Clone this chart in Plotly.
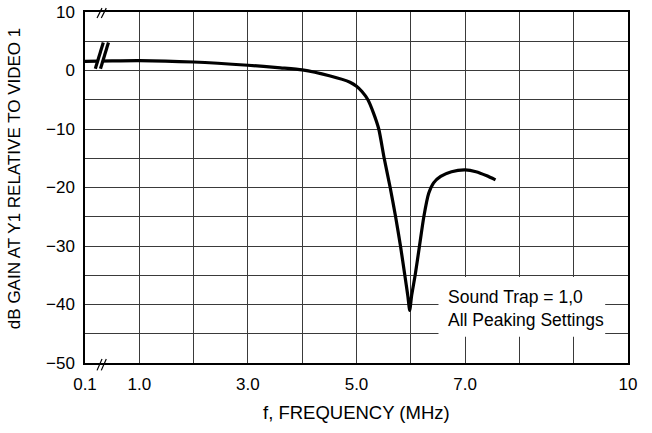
import plotly.graph_objects as go

# ---- data ----
freq_mhz = [0.1, 0.55, 1.0, 2.0, 3.0, 3.6, 4.0, 4.5, 4.88, 5.0, 5.1, 5.21, 5.31, 5.41,
            5.51, 5.62, 5.72, 5.81, 5.89, 5.945, 5.98, 6.015, 6.08, 6.16, 6.24, 6.33,
            6.42, 6.55, 6.75, 7.0, 7.2, 7.4, 7.56]
gain_db = [1.55, 1.65, 1.7, 1.45, 0.9, 0.45, 0.1, -0.9, -2.0, -2.7, -3.6, -5.0, -7.2, -10,
           -15, -20, -25, -30, -35, -38.5, -41, -38.5, -35, -30, -25, -21,
           -19.2, -18.1, -17.3, -17.0, -17.3, -18.0, -18.7]

x_tick_vals = list(range(0, 11))
x_tick_text = ["0.1", "1.0", "", "3.0", "", "5.0", "", "7.0", "", "", "10"]
y_tick_vals = list(range(-50, 15, 5))
y_tick_text = [str(v).replace("-", "\u2212") if v % 10 == 0 else "" for v in y_tick_vals]

x_title = "f, FREQUENCY (MHz)"
y_title = "dB GAIN AT Y1 RELATIVE TO VIDEO 1"
note_text = "Sound Trap = 1,0<br>All Peaking Settings"


# broken axis: 0.1 MHz sits at position 0, 1..10 MHz linear
def axis_pos(f):
    return (f - 0.1) / 0.9 if f < 1 else f


x_pos = [axis_pos(f) for f in freq_mhz]

FONT = "Liberation Sans, Arial, sans-serif"
GRID = "#3a3a3a"

fig = go.Figure()
fig.add_trace(go.Scatter(
    x=x_pos, y=gain_db, mode="lines",
    line=dict(color="black", width=3.2, shape="spline", smoothing=0.6),
    hoverinfo="skip", showlegend=False,
))

fig.update_layout(
    width=652, height=433,
    margin=dict(l=85, r=24, t=12, b=70, autoexpand=False),
    paper_bgcolor="white", plot_bgcolor="white",
    font=dict(family=FONT, size=17, color="black"),
    showlegend=False,
    xaxis=dict(
        range=[0, 10], tickmode="array", tickvals=x_tick_vals, ticktext=x_tick_text,
        showgrid=True, gridcolor=GRID, gridwidth=1.3, zeroline=False,
        showline=True, linecolor="black", linewidth=1.5, mirror=True, automargin=False,
        ticks="", ticklabelstandoff=5, tickfont=dict(size=17), ticklabeloverflow="allow",
    ),
    yaxis=dict(
        range=[-50, 10], tickmode="array", tickvals=y_tick_vals, ticktext=y_tick_text,
        showgrid=True, gridcolor=GRID, gridwidth=1.3, zeroline=False,
        showline=True, linecolor="black", linewidth=1.5, mirror=True, automargin=False,
        ticks="", ticklabelstandoff=5, tickfont=dict(size=17), ticklabeloverflow="allow",
    ),
)

shapes = []
# white box behind the note
shapes.append(dict(type="rect", xref="x", yref="y", x0=6.51, x1=9.58, y0=-45.5, y1=-35.3,
                   fillcolor="white", line=dict(width=0), layer="between"))
# axis break marks (top & bottom), paper coords
for (x0, x1, y0, y1) in [(0.222, 0.313, 0.983, 1.011), (0.300, 0.392, 0.983, 1.011),
                         (0.222, 0.313, -0.021, 0.0114), (0.300, 0.392, -0.021, 0.0114)]:
    shapes.append(dict(type="line", xref="paper", yref="paper", x0=x0 / 10, x1=x1 / 10,
                       y0=y0, y1=y1, line=dict(color="black", width=1.2), layer="above"))
# curve break marks
shapes.append(dict(type="line", xref="x", yref="y", x0=0.24, x1=0.385, y0=0.4, y1=4.6,
                   line=dict(color="white", width=3), layer="above"))
for (x0, x1) in [(0.19, 0.337), (0.285, 0.432)]:
    shapes.append(dict(type="line", xref="x", yref="y", x0=x0, x1=x1, y0=0.3, y1=4.8,
                       line=dict(color="black", width=3.2), layer="above"))
fig.update_layout(shapes=shapes)

fig.add_annotation(x=6.65, y=-40.6, xref="x", yref="y", text=note_text, showarrow=False,
                   xanchor="left", yanchor="middle", align="left",
                   font=dict(family=FONT, size=17.5, color="black"))
fig.add_annotation(x=0.5, y=-0.142, xref="paper", yref="paper", text=x_title, showarrow=False,
                   xanchor="center", yanchor="middle", font=dict(family=FONT, size=18.5))
fig.add_annotation(x=-0.13, y=0.525, xref="paper", yref="paper", text=y_title, showarrow=False,
                   textangle=-90, xanchor="center", yanchor="middle", font=dict(family=FONT, size=17))

fig.write_html("out.html", config={"displayModeBar": False},
               post_script="document.body.style.margin='0';")
